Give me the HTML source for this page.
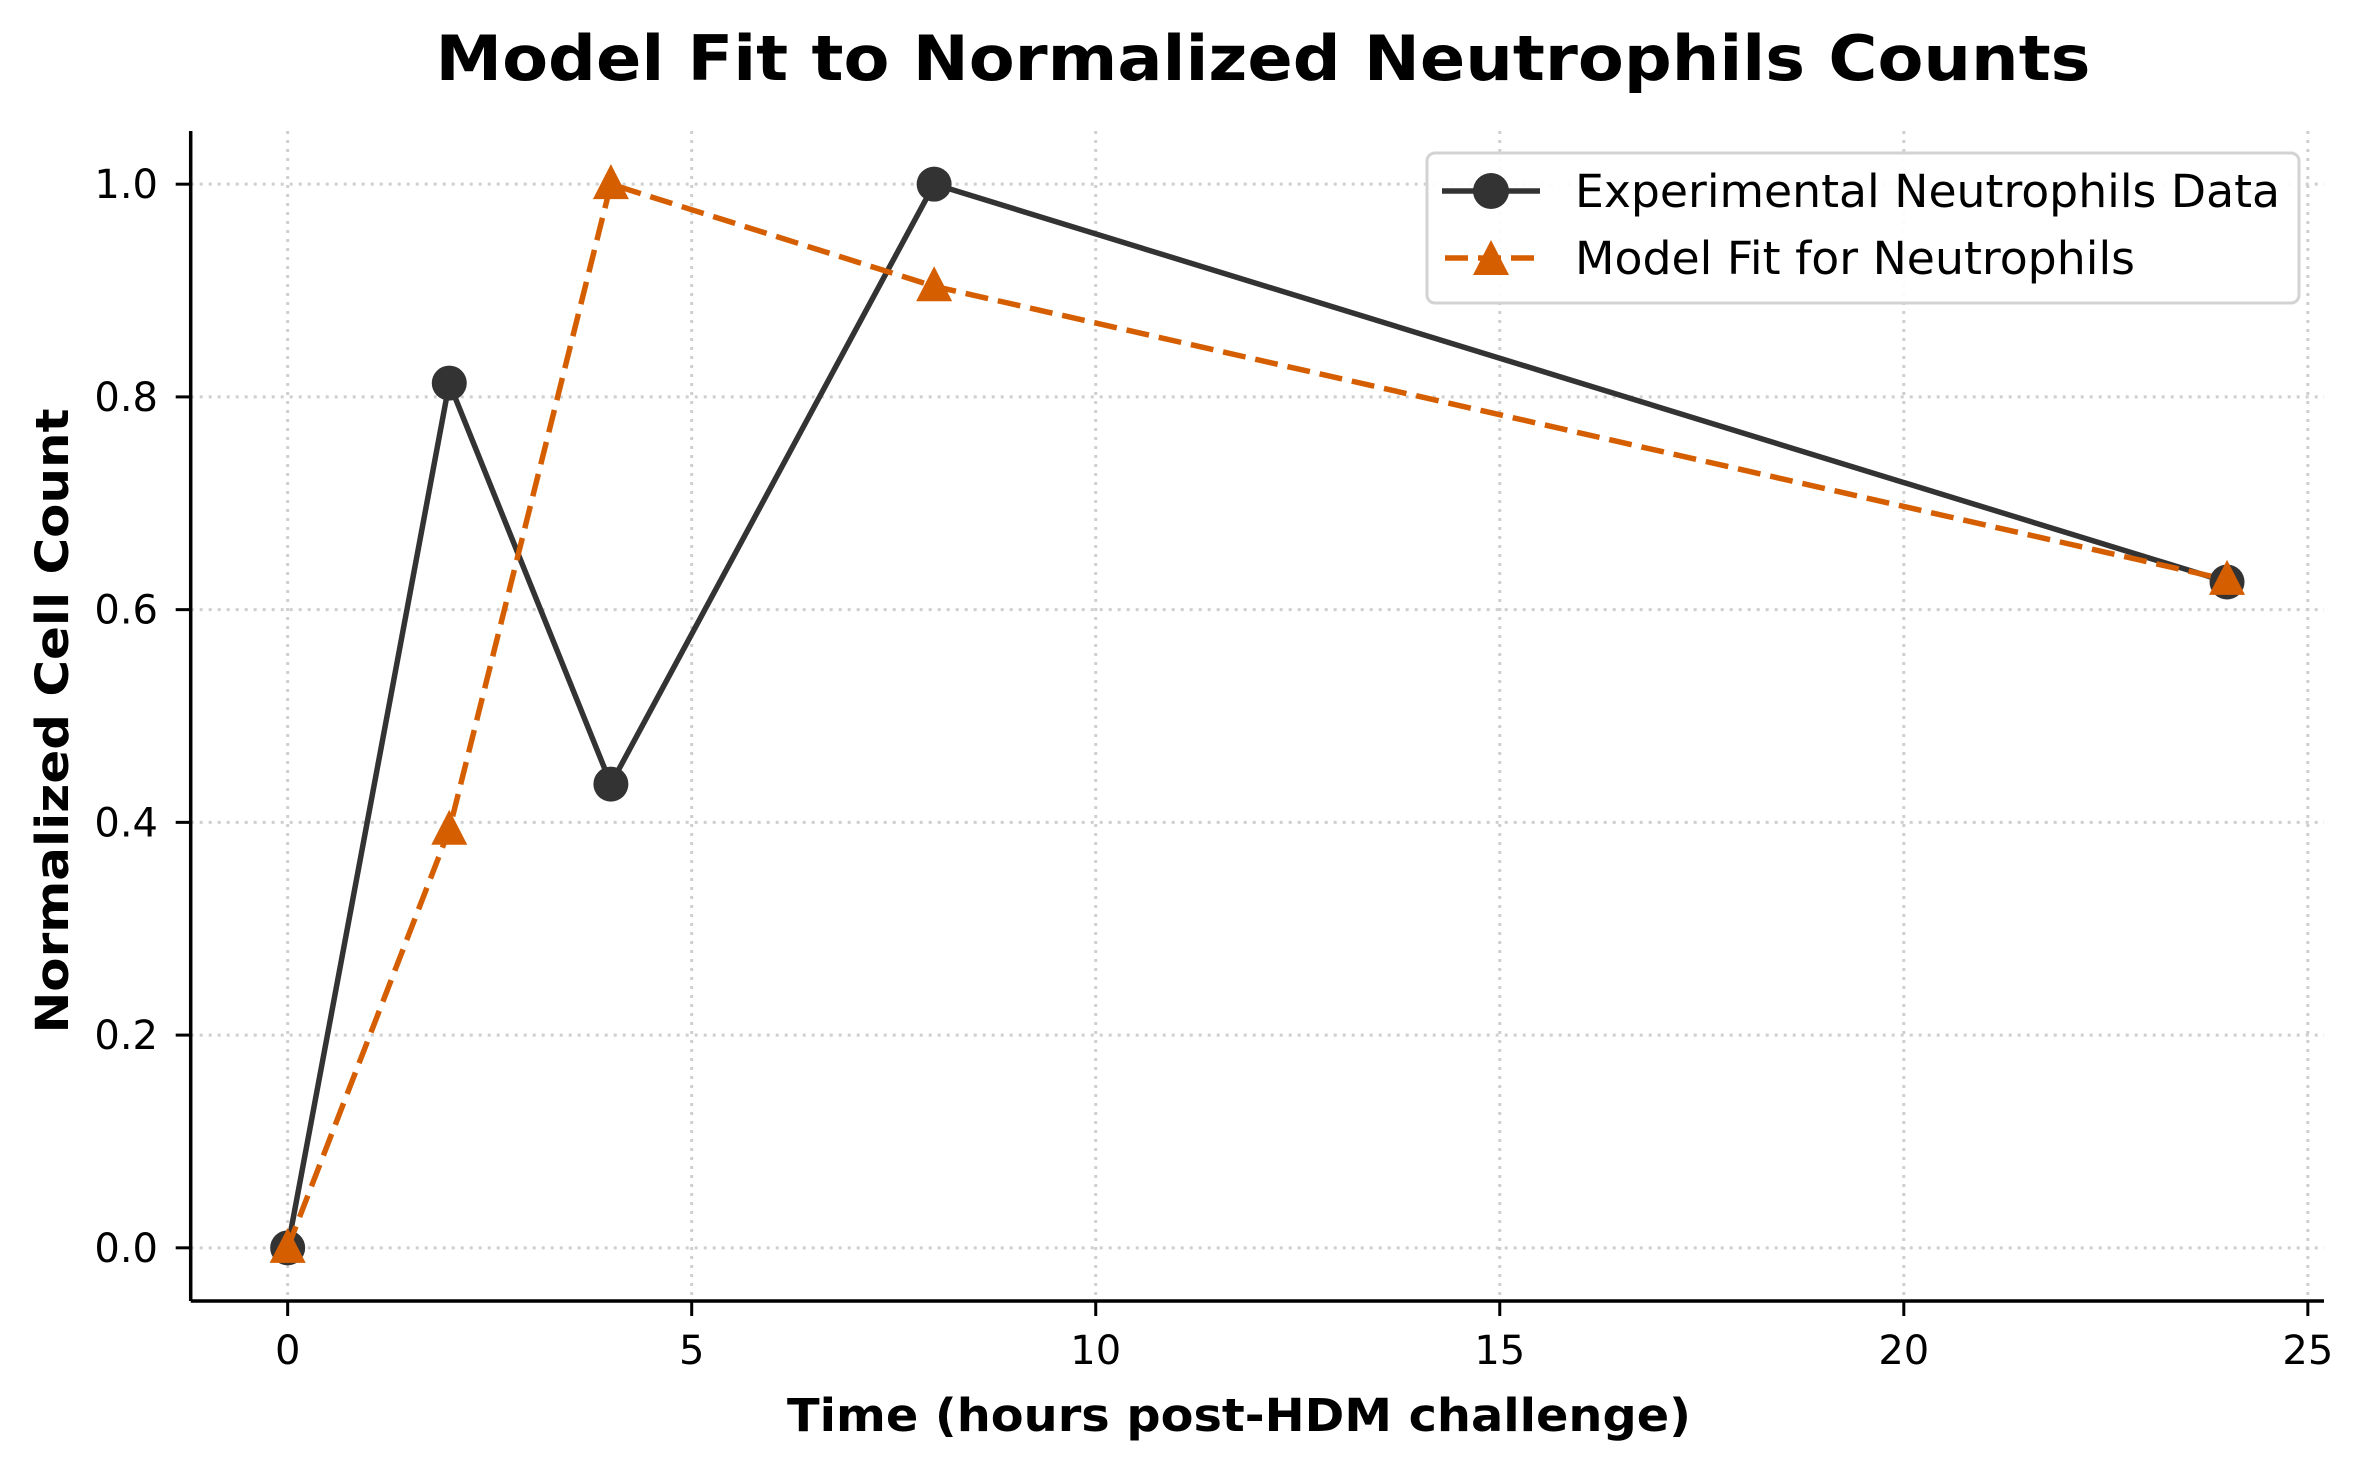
<!DOCTYPE html>
<html><head><meta charset="utf-8"><style>
html,body{margin:0;padding:0;background:#fff;}
svg{display:block;font-family:"DejaVu Sans","Liberation Sans",sans-serif;}
</style></head><body>
<svg id="chart" width="2362" height="1467" viewBox="0 0 2362 1467" xmlns="http://www.w3.org/2000/svg">
<rect width="2362" height="1467" fill="#fff"/>
<text x="1263" y="80" text-anchor="middle" font-size="62" font-weight="bold" textLength="1655" lengthAdjust="spacingAndGlyphs">Model Fit to Normalized Neutrophils Counts</text>
<g id="grid"></g>
<g id="axes"></g>
<g id="series"></g>
<text x="1239" y="1431" text-anchor="middle" font-size="45" font-weight="bold" textLength="904" lengthAdjust="spacingAndGlyphs">Time (hours post-HDM challenge)</text>
<text transform="translate(68,721) rotate(-90)" text-anchor="middle" font-size="45" font-weight="bold" textLength="625" lengthAdjust="spacingAndGlyphs">Normalized Cell Count</text>
<g>
<rect x="1427" y="153" width="872" height="150" rx="8" fill="#fff" fill-opacity="0.9" stroke="#d3d3d3" stroke-width="3"/>
<line x1="1442" y1="191" x2="1540" y2="191" stroke="#333333" stroke-width="5.5"/>
<circle cx="1491" cy="191" r="18" fill="#333333"/>
<text x="1575" y="207" font-size="45" textLength="705" lengthAdjust="spacingAndGlyphs">Experimental Neutrophils Data</text>
<line x1="1445" y1="258" x2="1535" y2="258" stroke="#d55e00" stroke-width="5.5" stroke-dasharray="23 10"/>
<polygon points="1491,240 1509,275 1473,275" fill="#d55e00"/>
<text x="1575" y="274" font-size="45" textLength="560" lengthAdjust="spacingAndGlyphs">Model Fit for Neutrophils</text>
</g>
</svg>
<script>
const xValues = [0, 2, 4, 8, 24];
const experimental = [0, 0.813, 0.436, 1.0, 0.626];
const modelFit = [0, 0.393, 1.0, 0.904, 0.628];
const xTicks = [0, 5, 10, 15, 20, 25];
const yTicks = [0.0, 0.2, 0.4, 0.6, 0.8, 1.0];

const NS = "http://www.w3.org/2000/svg";
const L = 190.7, R = 2324, T = 131, B = 1301;
const xMin = -1.2, xMax = 25.2, yMin = -0.05, yMax = 1.05;
function xs(v){ return L + (v - xMin) / (xMax - xMin) * (R - L); }
function ys(v){ return B - (v - yMin) / (yMax - yMin) * (B - T); }
function mk(tag, attrs, parent){
  const e = document.createElementNS(NS, tag);
  for (const k in attrs) e.setAttribute(k, attrs[k]);
  parent.appendChild(e); return e;
}
const grid = document.getElementById('grid');
const axes = document.getElementById('axes');
const series = document.getElementById('series');

xTicks.forEach(t => {
  const x = xs(t);
  const g = mk('line', {x1:x, y1:T, x2:x, y2:B, stroke:'#cfcfcf', 'stroke-width':3, 'stroke-dasharray':'3 6'}, grid);
  
  
  const tk = mk('line', {x1:x, y1:B, x2:x, y2:B+15, stroke:'#000', 'stroke-width':3}, axes);
  
  
  const lb = mk('text', {x:x, y:1364, 'text-anchor':'middle', 'font-size':40}, axes);
  lb.textContent = String(t);
  
  
});
yTicks.forEach(t => {
  const y = ys(t);
  const g = mk('line', {x1:L, y1:y, x2:R, y2:y, stroke:'#cfcfcf', 'stroke-width':3, 'stroke-dasharray':'3 6'}, grid);
  
  
  const tk = mk('line', {x1:L-15, y1:y, x2:L, y2:y, stroke:'#000', 'stroke-width':3}, axes);
  
  
  const lb = mk('text', {x:158, y:y+14, 'text-anchor':'end', 'font-size':40}, axes);
  lb.textContent = t.toFixed(1);
  
  
});
const sl = mk('line', {x1:L, y1:T, x2:L, y2:B, stroke:'#000', 'stroke-width':3.5}, axes);


const sb = mk('line', {x1:L, y1:B, x2:R, y2:B, stroke:'#000', 'stroke-width':3.5}, axes);



const expPts = xValues.map((x,i) => xs(x)+','+ys(experimental[i])).join(' ');
const el1 = mk('polyline', {points:expPts, fill:'none', stroke:'#333333', 'stroke-width':5.5, 'stroke-linejoin':'round'}, series);


xValues.forEach((x,i) => {
  const c = mk('circle', {cx:xs(x), cy:ys(experimental[i]), r:17.5, fill:'#333333'}, series);
  
  
});
const modPts = xValues.map((x,i) => xs(x)+','+ys(modelFit[i])).join(' ');
const el2 = mk('polyline', {points:modPts, fill:'none', stroke:'#d55e00', 'stroke-width':5.5, 'stroke-dasharray':'23 10'}, series);


xValues.forEach((x,i) => {
  const cx = xs(x), cy = ys(modelFit[i]);
  const p = mk('polygon', {points:`${cx},${cy-20} ${cx+18},${cy+15} ${cx-18},${cy+15}`, fill:'#d55e00'}, series);
  
  
});
</script>
</body></html>
